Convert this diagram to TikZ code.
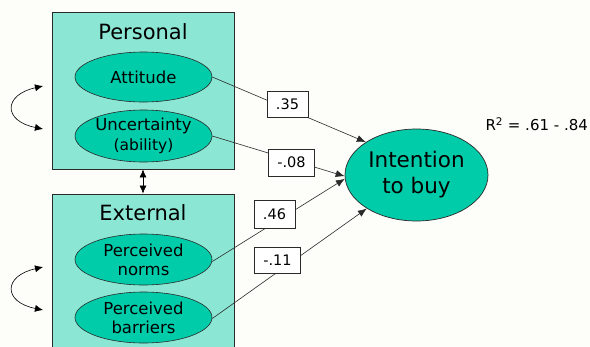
\documentclass[tikz,border=0pt]{standalone}
\usepackage{fontspec}
\setmainfont{DejaVu Sans}
\usetikzlibrary{shapes.geometric,arrows.meta}
\definecolor{bgc}{HTML}{FDFDF9}
\definecolor{boxfill}{HTML}{8CE6D4}
\definecolor{ellfill}{HTML}{00CCAA}
\definecolor{edge}{HTML}{2A2A2A}
\tikzset{
  groupbox/.style={draw=edge, line width=0.8pt, fill=boxfill, rectangle, inner sep=0pt},
  factor/.style={draw=edge, line width=0.6pt, fill=ellfill, ellipse, inner sep=0pt,
    minimum width=137pt, minimum height=50pt, align=center,
    font=\fontsize{16.5}{19}\selectfont},
  coef/.style={draw=edge, line width=0.6pt, fill=white, rectangle, inner xsep=9pt,
    minimum height=26pt, font=\fontsize{14.5}{17}\selectfont},
  path/.style={draw=edge, line width=0.6pt, -{Latex[length=9pt,width=7pt]}},
  corr/.style={draw=black, line width=0.6pt, {Latex[length=8pt,width=7pt]}-{Latex[length=8pt,width=7pt]}},
  title/.style={font=\fontsize{21}{25}\selectfont}
}
\begin{document}
\begin{tikzpicture}[x=1pt,y=-1pt]
\useasboundingbox[fill=bgc] (0,0) rectangle (590,346);
% group boxes
\node[groupbox, minimum width=182pt, minimum height=157pt] (personal) at (143,90.5) {};
\node[groupbox, minimum width=182pt, minimum height=160pt] (external) at (143,274) {};
\node[title] (ptitle) at (143,32) {Personal};
\node[title] (etitle) at (143,213) {External};
% factors
\node[factor] (att) at (143.5,77) {Attitude};
\node[factor, minimum height=52pt] (unc) at (143.5,136) {Uncertainty\\[1pt]{\fontsize{15.5}{18}\selectfont (ability)}};
\node[factor, minimum height=51pt] (norms) at (143.5,259.5) {Perceived\\norms};
\node[factor, minimum height=51pt] (barr) at (143.5,317.5) {Perceived\\barriers};
% outcome
\node[draw=edge, line width=0.7pt, fill=ellfill, ellipse, inner sep=0pt,
  minimum width=143pt, minimum height=92pt, align=center,
  font=\fontsize{21.5}{26}\selectfont] (int) at (416.5,175) {Intention\\to buy};
\node[font=\fontsize{15}{18}\selectfont, anchor=west] (r2) at (482,124) {R\textsuperscript{2} = .61 - .84};
% paths
\draw[path] (att.east) -- (int.147);
\draw[path] (unc.east) -- (int.181);
\draw[path] ([yshift=-2pt]norms.east) -- (int.183);
\draw[path] ([yshift=-1pt]barr.east) -- (int.214);
% coefficients
\node[coef] (c1) at (287.5,104.5) {.35};
\node[coef, minimum height=27pt] (c2) at (291.5,162.5) {-.08};
\node[coef, minimum height=28pt] (c3) at (274.5,214) {.46};
\node[coef] (c4) at (277.5,260) {-.11};
% correlations
\draw[corr] (personal.south) -- (external.north);
\coordinate (pa) at (43,86);
\coordinate (pb) at (43,129);
\coordinate (ea) at (43,267);
\coordinate (eb) at (43,310);
\draw[corr] (pa) .. controls (3,95) and (3,121) .. (pb);
\draw[corr] (ea) .. controls (3,276) and (3,302) .. (eb);
\end{tikzpicture}
\end{document}
